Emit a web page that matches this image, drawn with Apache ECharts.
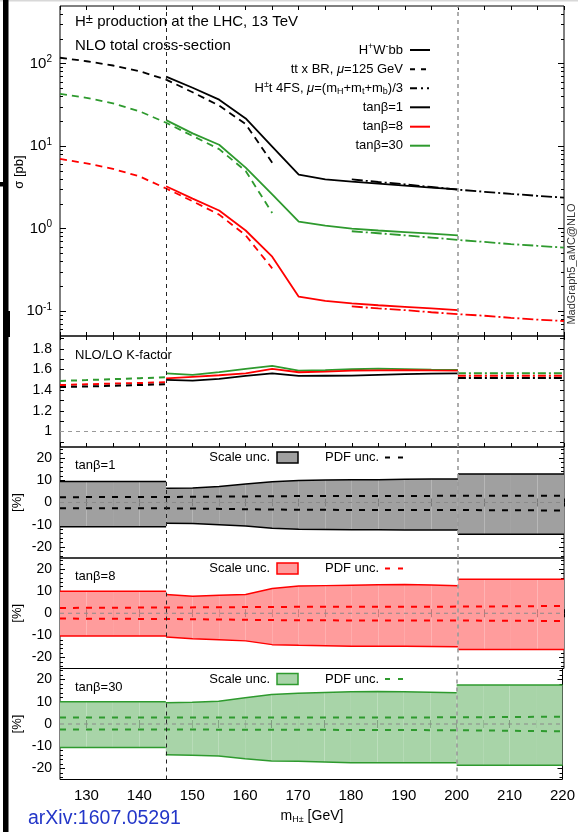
<!DOCTYPE html>
<html>
<head>
<meta charset="utf-8">
<script src="https://cdn.jsdelivr.net/npm/echarts@6/dist/echarts.min.js"></script>
<style>
html,body{margin:0;padding:0;background:#fff;}
#chart{width:578px;height:832px;}
</style>
</head>
<body>
<div id="chart"></div>
<script>
// Charged Higgs production at the LHC, 13 TeV: total NLO cross sections,
// NLO/LO K-factors and scale / PDF uncertainties for three tan(beta) values.

// ---- mass points [GeV]
const massBR  = [125, 130, 135, 140, 145, 150, 155, 160, 165];
const massWbb = [145, 150, 155, 160, 165, 170, 175, 180, 185, 190, 195, 200];
const mass4FS = [180, 185, 190, 195, 200, 205, 210, 215, 220];
const massLow = [125, 130, 135, 140, 145];
const massHigh = [200, 205, 210, 215, 220];
const massPdf = [125, 145, 170, 200, 220];

// ---- total cross sections [pb]
const brTb1   = [118, 107, 95, 81, 64, 45, 31, 18.5, 6.3];
const brTb8   = [7.0, 6.2, 5.3, 4.3, 3.07, 2.15, 1.48, 0.83, 0.33];
const brTb30  = [43, 38.5, 33, 26.5, 19.2, 13.3, 9.2, 5.0, 1.55];
const wbbTb1  = [69.8, 51, 36.6, 21.7, 9.9, 4.52, 3.95, 3.72, 3.52, 3.33, 3.15, 2.99];
const wbbTb8  = [3.27, 2.31, 1.66, 0.95, 0.457, 0.15, 0.133, 0.124, 0.118, 0.113, 0.108, 0.103];
const wbbTb30 = [20.7, 14.3, 10.4, 5.5, 2.6, 1.22, 1.09, 1.0, 0.95, 0.91, 0.87, 0.83];
const fsTb1   = [3.95, 3.68, 3.45, 3.2, 2.97, 2.8, 2.64, 2.5, 2.38];
const fsTb8   = [0.114, 0.108, 0.103, 0.097, 0.092, 0.088, 0.083, 0.079, 0.076];
const fsTb30  = [0.93, 0.88, 0.83, 0.78, 0.73, 0.69, 0.65, 0.62, 0.59];

// ---- NLO/LO K-factors
const kBrTb1   = [1.43, 1.436, 1.443, 1.45, 1.458];
const kBrTb8   = [1.45, 1.457, 1.464, 1.47, 1.477];
const kBrTb30  = [1.49, 1.498, 1.507, 1.516, 1.525];
const kWbbTb1  = [1.50, 1.493, 1.51, 1.538, 1.564, 1.538, 1.54, 1.541, 1.548, 1.555, 1.56, 1.564];
const kWbbTb8  = [1.515, 1.53, 1.545, 1.564, 1.606, 1.574, 1.58, 1.59, 1.593, 1.595, 1.592, 1.59];
const kWbbTb30 = [1.564, 1.548, 1.575, 1.606, 1.635, 1.59, 1.595, 1.603, 1.61, 1.605, 1.6, 1.596];
const k4FSTb1  = [1.519, 1.519, 1.519, 1.519, 1.519];
const k4FSTb8  = [1.541, 1.541, 1.541, 1.541, 1.541];
const k4FSTb30 = [1.564, 1.564, 1.564, 1.564, 1.564];

// ---- relative uncertainties [%], tanβ=1
const scale1LowUp  = [9.5, 9.5, 9.5, 9.5, 9.5];
const scale1LowDn  = [-10.9, -10.9, -10.9, -10.9, -10.9];
const scale1MidUp  = [6.4, 6.5, 7.2, 8.3, 9.3, 9.9, 10.1, 10.2, 10.3, 10.5, 10.6, 10.6];
const scale1MidDn  = [-9.4, -9.5, -10.0, -10.6, -11.6, -12.1, -12.2, -12.3, -12.3, -12.4, -12.4, -12.4];
const scale1HighUp = [12.8, 12.8, 12.8, 12.8, 12.8];
const scale1HighDn = [-14.3, -14.3, -14.3, -14.3, -14.3];
const pdf1Up = [2.4, 2.5, 2.9, 3.0, 3.0];
const pdf1Dn = [-2.6, -2.6, -3.3, -3.4, -3.6];

// tanβ=8
const scale8LowUp  = [10, 10, 10, 10, 10];
const scale8LowDn  = [-10.3, -10.3, -10.3, -10.3, -10.3];
const scale8MidUp  = [8.5, 7.7, 8.1, 8.5, 11.2, 12.3, 12.5, 12.7, 12.9, 13.0, 12.8, 12.4];
const scale8MidDn  = [-10.7, -11.5, -12.0, -12.5, -14.2, -14.5, -14.7, -14.9, -14.9, -14.9, -15.0, -15.2];
const scale8HighUp = [15.4, 15.4, 15.4, 15.4, 15.4];
const scale8HighDn = [-16.4, -16.4, -16.4, -16.4, -16.4];
const pdf8Up = [2.4, 2.6, 2.9, 3.0, 3.3];
const pdf8Dn = [-2.4, -2.6, -3.2, -3.3, -3.5];

// tanβ=30
const scale30LowUp  = [10, 10, 10, 10, 10];
const scale30LowDn  = [-10.6, -10.6, -10.6, -10.6, -10.6];
const scale30MidUp  = [9.6, 9.8, 10.3, 11.8, 13.3, 13.8, 14.2, 14.5, 14.6, 14.5, 14.3, 14.1];
const scale30MidDn  = [-13.8, -14.1, -14.4, -15.6, -16.7, -16.8, -17.1, -17.4, -17.5, -17.5, -17.4, -17.4];
const scale30HighUp = [17.6, 17.6, 17.6, 17.6, 17.6];
const scale30HighDn = [-18.6, -18.6, -18.6, -18.6, -18.6];
const pdf30Up = [2.9, 2.9, 2.9, 3.0, 3.3];
const pdf30Dn = [-2.5, -2.5, -2.6, -2.8, -3.3];

// ---- tick positions
const logMajorTicks = [0.1, 1, 10, 100];
const logMinorTicks = [0.06, 0.07, 0.08, 0.09, 0.2, 0.3, 0.4, 0.5, 0.6, 0.7, 0.8, 0.9,
                       2, 3, 4, 5, 6, 7, 8, 9, 20, 30, 40, 50, 60, 70, 80, 90, 200, 300, 400];
const kLabelTicks = [1, 1.2, 1.4, 1.6, 1.8];
const kTicks = [0.9, 1.0, 1.1, 1.2, 1.3, 1.4, 1.5, 1.6, 1.7, 1.8, 1.9];
const uncMajorTicks = [-20, -10, 0, 10, 20];
const uncMinorTicks = [-24, -22, -18, -16, -14, -12, -8, -6, -4, -2, 2, 4, 6, 8, 12, 14, 16, 18, 22, 24];
const massLabelStep = 10;

// ---- styling
const FONT = 'Liberation Sans, Arial, Helvetica, sans-serif';
const BLACK = '#000000', RED = '#ff0000', GREEN = '#2e9a2e';
const DASH = [7, 5], DASHDOT = [11, 3, 2, 3];

const W = 578;
const plotLeft = 60, plotRight = 14;
const panels = [
  { top: 6,     height: 330 },
  { top: 336,   height: 111 },
  { top: 447,   height: 111 },
  { top: 558,   height: 110.5 },
  { top: 668.5, height: 111 }
];

const grid = panels.map(p => ({
  left: plotLeft, right: plotRight, top: p.top, height: p.height,
  show: true, borderColor: '#000', borderWidth: 1, backgroundColor: 'transparent'
}));

// x axes: one bottom + one top per panel (ticks every 5 GeV, pointing inwards)
const xAxis = [];
panels.forEach((p, g) => {
  ['bottom', 'top'].forEach(pos => {
    const labelled = (g === panels.length - 1 && pos === 'bottom');
    xAxis.push({
      gridIndex: g, type: 'value', min: 125, max: 220, interval: 5, position: pos,
      axisLine: { show: false }, splitLine: { show: false },
      axisTick: { inside: true, length: 4, lineStyle: { color: '#000', width: 1 } },
      axisLabel: labelled ? {
        show: true, margin: 9, fontSize: 15, fontFamily: FONT, color: '#000',
        formatter: v => (v % massLabelStep === 0 ? String(v) : '')
      } : { show: false }
    });
  });
});

// y axes
const yAxis = [];
function tickAxis(g, type, min, max, pos, ticks, len, labels, formatter, rich) {
  const ax = {
    gridIndex: g, type: type, min: min, max: max, position: pos,
    axisLine: { show: false }, splitLine: { show: false }, minorTick: { show: false },
    axisTick: { inside: true, length: len, customValues: ticks, lineStyle: { color: '#000', width: 1 } },
    axisLabel: { show: false }
  };
  if (type === 'log') ax.logBase = 10;
  if (labels) {
    ax.axisLabel = { show: true, customValues: labels, margin: 8, fontSize: 14, fontFamily: FONT,
                     color: '#000', formatter: formatter, rich: rich };
  }
  yAxis.push(ax);
  return yAxis.length - 1;
}
const logRich = {
  b: { fontSize: 15, fontFamily: FONT, color: '#000', lineHeight: 18 },
  s: { fontSize: 10, fontFamily: FONT, color: '#000', lineHeight: 10, verticalAlign: 'top' }
};
const logFmt = v => '{b|10}{s|' + Math.round(Math.log10(v)) + '}';
const Y_MAIN = tickAxis(0, 'log', 0.05, 500, 'left', logMajorTicks, 6, logMajorTicks, logFmt, logRich);
tickAxis(0, 'log', 0.05, 500, 'left', logMinorTicks, 3);
tickAxis(0, 'log', 0.05, 500, 'right', logMajorTicks, 6);
tickAxis(0, 'log', 0.05, 500, 'right', logMinorTicks, 3);

const Y_K = tickAxis(1, 'value', 0.85, 1.925, 'left', kTicks, 4, kLabelTicks,
                     v => (v === 1 ? '1' : v.toFixed(1)));
tickAxis(1, 'value', 0.85, 1.925, 'right', kTicks, 4);

const Y_UNC = [2, 3, 4].map(g => {
  const idx = tickAxis(g, 'value', -25, 25, 'left', uncMajorTicks, 5, uncMajorTicks, v => String(v));
  tickAxis(g, 'value', -25, 25, 'left', uncMinorTicks, 3);
  tickAxis(g, 'value', -25, 25, 'right', uncMajorTicks, 5);
  tickAxis(g, 'value', -25, 25, 'right', uncMinorTicks, 3);
  return idx;
});

// ---- series helpers
const series = [];
function pairs(xs, ys) { return xs.map((x, i) => [x, ys[i]]); }
function addLine(g, yi, xs, ys, color, type, width, z) {
  series.push({
    type: 'line', xAxisIndex: 2 * g, yAxisIndex: yi, data: pairs(xs, ys),
    symbol: 'none', silent: true, animation: false, z: z || 3, clip: true,
    lineStyle: { color: color, width: width || 1.8, type: type || 'solid', cap: 'butt' }
  });
  return series[series.length - 1];
}
function addBand(g, yi, xs, up, dn, fill) {
  const items = [];
  for (let i = 0; i < xs.length - 1; i++) {
    items.push([xs[i], dn[i], up[i], xs[i + 1], dn[i + 1], up[i + 1]]);
  }
  series.push({
    type: 'custom', xAxisIndex: 2 * g, yAxisIndex: yi, data: items, silent: true,
    animation: false, z: 1, encode: { x: [0, 3], y: [1, 2, 4, 5] },
    renderItem: (params, api) => {
      const p1 = api.coord([api.value(0), api.value(1)]);
      const p2 = api.coord([api.value(0), api.value(2)]);
      const p3 = api.coord([api.value(3), api.value(5)]);
      const p4 = api.coord([api.value(3), api.value(4)]);
      return { type: 'polygon', shape: { points: [p1, p2, p3, p4] }, style: { fill: fill } };
    }
  });
}
const guideLines = {
  symbol: ['none', 'none'], silent: true, animation: false, label: { show: false },
  emphasis: { disabled: true },
  data: [
    { xAxis: 145, lineStyle: { color: '#222', type: [4, 4], width: 1 } },
    { xAxis: 200, lineStyle: { color: '#999', type: [4, 4], width: 1.6 } }
  ]
};

// ---- main panel: cross sections
[[brTb1, BLACK], [brTb8, RED], [brTb30, GREEN]].forEach(([v, c]) => addLine(0, Y_MAIN, massBR, v, c, DASH));
[[wbbTb1, BLACK], [wbbTb8, RED], [wbbTb30, GREEN]].forEach(([v, c]) => addLine(0, Y_MAIN, massWbb, v, c, 'solid'));
[[fsTb1, BLACK], [fsTb8, RED], [fsTb30, GREEN]].forEach(([v, c]) => addLine(0, Y_MAIN, mass4FS, v, c, DASHDOT));
series[0].markLine = guideLines;

// ---- K-factor panel
const kUnity = addLine(1, Y_K, [125, 220], [1, 1], '#999', [4, 4], 1, 2);
kUnity.markLine = guideLines;
[[kBrTb30, GREEN], [kBrTb8, RED], [kBrTb1, BLACK]].forEach(([v, c]) => addLine(1, Y_K, massLow, v, c, [6, 5], 2));
[[kWbbTb30, GREEN], [kWbbTb8, RED], [kWbbTb1, BLACK]].forEach(([v, c]) => addLine(1, Y_K, massWbb, v, c, 'solid', 1.8));
[[k4FSTb30, GREEN], [k4FSTb8, RED], [k4FSTb1, BLACK]].forEach(([v, c]) => addLine(1, Y_K, massHigh, v, c, [8, 3, 2, 3], 2));

// ---- uncertainty panels
const uncSets = [
  { g: 2, line: BLACK, fill: '#a0a0a0',
    low: [scale1LowUp, scale1LowDn], mid: [scale1MidUp, scale1MidDn], high: [scale1HighUp, scale1HighDn],
    pdf: [pdf1Up, pdf1Dn] },
  { g: 3, line: RED, fill: '#ff9c9c',
    low: [scale8LowUp, scale8LowDn], mid: [scale8MidUp, scale8MidDn], high: [scale8HighUp, scale8HighDn],
    pdf: [pdf8Up, pdf8Dn] },
  { g: 4, line: GREEN, fill: '#a8d4a8',
    low: [scale30LowUp, scale30LowDn], mid: [scale30MidUp, scale30MidDn], high: [scale30HighUp, scale30HighDn],
    pdf: [pdf30Up, pdf30Dn] }
];
uncSets.forEach((u, k) => {
  const yi = Y_UNC[k];
  [[massLow, u.low], [massWbb, u.mid], [massHigh, u.high]].forEach(([xs, band]) => {
    addBand(u.g, yi, xs, band[0], band[1], u.fill);
    addLine(u.g, yi, xs, band[0], u.line, 'solid', 1.5, 3);
    addLine(u.g, yi, xs, band[1], u.line, 'solid', 1.5, 3);
  });
  const zero = addLine(u.g, yi, [125, 220], [0, 0], '#8a8a8a', [4, 4], 1, 4);
  zero.markLine = guideLines;
  addLine(u.g, yi, massPdf, u.pdf[0], u.line, [6, 7], 2, 4);
  addLine(u.g, yi, massPdf, u.pdf[1], u.line, [6, 7], 2, 4);
});

// ---- annotations
const graphic = [];
const txtRich = {
  t:  { fontSize: 13, fontFamily: FONT, color: '#000', lineHeight: 16 },
  T:  { fontSize: 15, fontFamily: FONT, color: '#000', lineHeight: 18 },
  i:  { fontSize: 13, fontFamily: FONT, fontStyle: 'italic', color: '#000', lineHeight: 16 },
  sp: { fontSize: 9,  fontFamily: FONT, color: '#000', lineHeight: 9, verticalAlign: 'top' },
  Sp: { fontSize: 13, fontFamily: FONT, color: '#000', lineHeight: 13, verticalAlign: 'top' },
  sb: { fontSize: 9,  fontFamily: FONT, color: '#000', lineHeight: 9, verticalAlign: 'bottom' }
};
function text(x, y, str, opts) {
  graphic.push(Object.assign({
    type: 'text', x: x, y: y, silent: true, z: 100,
    style: Object.assign({ text: str, fontFamily: FONT, fontSize: 13, fill: '#000',
                           align: 'left', verticalAlign: 'middle', rich: txtRich }, (opts && opts.style) || {})
  }, (opts && opts.el) || {}));
}
function seg(x1, y1, x2, y2, color, width, dash) {
  graphic.push({ type: 'line', silent: true, z: 100,
    shape: { x1: x1, y1: y1, x2: x2, y2: y2 },
    style: { stroke: color, lineWidth: width, lineDash: dash || null } });
}

// page edge details
graphic.push({ type: 'rect', silent: true, z: 90, shape: { x: 0, y: 0, width: W, height: 1.5 }, style: { fill: '#d8d8d8' } });
graphic.push({ type: 'rect', silent: true, z: 90, shape: { x: 3, y: 0, width: 5.5, height: 832 }, style: { fill: '#000' } });
graphic.push({ type: 'rect', silent: true, z: 90, shape: { x: 0, y: 182, width: 8, height: 4.5 }, style: { fill: '#000' } });
graphic.push({ type: 'rect', silent: true, z: 90, shape: { x: 3, y: 311, width: 7, height: 26 }, style: { fill: '#000' } });

// main panel headings
text(75, 22, '{T|H}{Sp|±}{T| production at the LHC, 13 TeV}');
text(75, 46, '{T|NLO total cross-section}');

// main panel legend
const legRows = [50, 69.3, 88.3, 107.3, 126.7, 145.7];
const legText = [
  '{t|H}{sp|+}{t|W}{sp|-}{t|bb}',
  '{t|tt x BR, }{i|μ}{t|=125 GeV}',
  '{t|H}{sp|±}{t|t 4FS, }{i|μ}{t|=(m}{sb|H}{t|+m}{sb|t}{t|+m}{sb|b}{t|)/3}',
  '{t|tanβ=1}', '{t|tanβ=8}', '{t|tanβ=30}'
];
const legStroke = [[BLACK, null], [BLACK, [5, 6]], [BLACK, [7, 4, 2, 4, 2, 10]], [BLACK, null], [RED, null], [GREEN, null]];
legRows.forEach((y, i) => {
  text(403, y, legText[i], { style: { align: 'right' } });
  seg(410, y, 430, y, legStroke[i][0], 2, legStroke[i][1]);
});

// axis titles
text(19, 172, 'σ [pb]', { el: { rotation: Math.PI / 2 }, style: { align: 'center', fontSize: 13 } });
[2, 3, 4].forEach(g => {
  const cy = panels[g].top + panels[g].height / 2;
  text(17, cy, '[%]', { el: { rotation: Math.PI / 2 }, style: { align: 'center', fontSize: 13 } });
});
text(312, 816, '{x|m}{xs|H±}{x| [GeV]}', { style: { align: 'center', rich: {
  x:  { fontSize: 14, fontFamily: FONT, color: '#000', lineHeight: 17 },
  xs: { fontSize: 9, fontFamily: FONT, color: '#000', lineHeight: 9, verticalAlign: 'bottom' }
} } });
text(572, 264, 'MadGraph5_aMC@NLO', { el: { rotation: Math.PI / 2 }, style: { align: 'center', fontSize: 11, fill: '#333' } });
text(28, 819, 'arXiv:1607.05291', { style: { fontSize: 19.5, fill: '#2336c8' } });

// K-factor panel label
text(75, 355, 'NLO/LO K-factor');

// uncertainty panel labels and keys
const uncLabels = ['tanβ=1', 'tanβ=8', 'tanβ=30'];
uncSets.forEach((u, k) => {
  const top = panels[u.g].top;
  text(75, top + 18.5, uncLabels[k]);
  text(270, top + 10.5, 'Scale unc.', { style: { align: 'right' } });
  graphic.push({ type: 'rect', silent: true, z: 100,
    shape: { x: 277, y: top + 5, width: 21, height: 11 },
    style: { fill: u.fill, stroke: u.line, lineWidth: 1.5 } });
  text(325, top + 10.5, 'PDF unc.');
  seg(385, top + 10.5, 403, top + 10.5, u.line, 2, [5, 8]);
});

const chart = echarts.init(document.getElementById('chart'), null, { renderer: 'canvas' });
chart.setOption({
  animation: false,
  backgroundColor: '#ffffff',
  grid: grid,
  xAxis: xAxis,
  yAxis: yAxis,
  series: series,
  graphic: graphic
});
</script>
</body>
</html>
